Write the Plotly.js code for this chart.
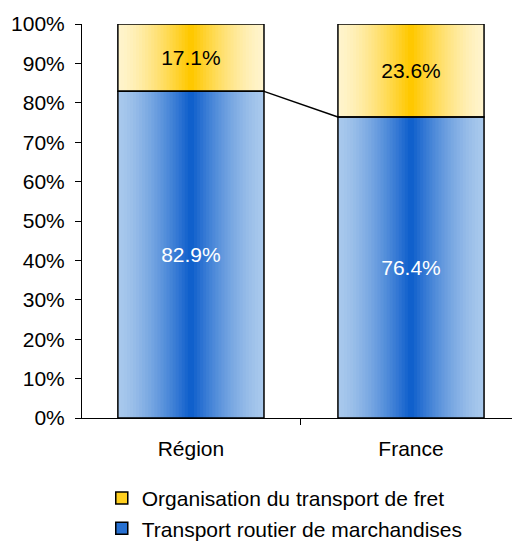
<!DOCTYPE html>
<html>
<head>
<meta charset="utf-8">
<script src="https://cdn.plot.ly/plotly-3.0.1.min.js"></script>
<style>html,body{margin:0;padding:0;background:#fff;}#chart{width:512px;height:543px;}</style>
</head>
<body>
<div id="chart"></div>
<script>
// ---- data ----
const categories = ["Région", "France"];
const routier = [82.9, 76.4];      // Transport routier de marchandises
const organisation = [17.1, 23.6]; // Organisation du transport de fret
const seriesNames = ["Transport routier de marchandises", "Organisation du transport de fret"];
const yTickVals = [0, 10, 20, 30, 40, 50, 60, 70, 80, 90, 100];

// ---- styling ----
const FONT = "Liberation Sans, Arial, sans-serif";
const FS = 21;
const BAR_W = 0.664;
const N = 24;
const blueEdge = [168, 200, 236], blueCenter = [16, 96, 204];
const goldEdge = [255, 244, 204], goldCenter = [255, 200, 0];
function mix(a, b, t) {
  return "rgb(" + a.map((v, i) => Math.round(v + (b[i] - v) * t)).join(",") + ")";
}
const xIdx = categories.map((c, i) => i);
const orgBase = routier.slice();

const traces = [];
function gradientStrips(values, base, edge, center) {
  for (let k = 0; k < N; k++) {
    const t = Math.pow(k / (N - 1), 1.4);
    traces.push({
      type: "bar", x: xIdx, y: values, base: base,
      width: BAR_W * (1 - k / N),
      marker: { color: mix(edge, center, t), line: { width: 0 } },
      showlegend: false, hoverinfo: "skip"
    });
  }
}
gradientStrips(routier, [0, 0], blueEdge, blueCenter);
gradientStrips(organisation, orgBase, goldEdge, goldCenter);

// outlines with labels
traces.push({
  type: "bar", x: xIdx, y: routier, base: [0, 0], width: BAR_W,
  marker: { color: "rgba(0,0,0,0)", line: { color: "#000", width: 1.5 } },
  text: routier.map(v => v.toFixed(1) + "%"), textposition: "inside",
  insidetextanchor: "middle", textangle: 0,
  insidetextfont: { family: FONT, size: FS, color: "#fff" },
  showlegend: false, hoverinfo: "skip"
});
traces.push({
  type: "bar", x: xIdx, y: organisation, base: orgBase, width: BAR_W,
  marker: { color: "rgba(0,0,0,0)", line: { color: "#000", width: 1.5 } },
  text: organisation.map(v => v.toFixed(1) + "%"), textposition: "inside",
  insidetextanchor: "middle", textangle: 0,
  insidetextfont: { family: FONT, size: FS, color: "#000" },
  showlegend: false, hoverinfo: "skip"
});

// connector line between top of first series
traces.push({
  type: "scatter", mode: "lines",
  x: [xIdx[0] + BAR_W / 2, xIdx[1] - BAR_W / 2],
  y: [routier[0], routier[1]],
  line: { color: "#000", width: 1.5 },
  showlegend: false, hoverinfo: "skip"
});

// legend entries (on hidden axis, out of view)
traces.push({
  type: "bar", x: xIdx, y: organisation, yaxis: "y2", name: seriesNames[1],
  marker: { color: mix(goldEdge, goldCenter, 0.85), line: { color: "#000", width: 1.5 } },
  hoverinfo: "skip"
});
traces.push({
  type: "bar", x: xIdx, y: routier, yaxis: "y2", name: seriesNames[0],
  marker: { color: mix(blueEdge, blueCenter, 0.85), line: { color: "#000", width: 1.5 } },
  hoverinfo: "skip"
});

const layout = {
  width: 512, height: 543,
  margin: { l: 82, r: 0, t: 24, b: 125, autoexpand: false },
  paper_bgcolor: "#fff", plot_bgcolor: "#fff",
  barmode: "overlay",
  font: { family: FONT, size: FS, color: "#000" },
  showlegend: true,
  xaxis: {
    range: [-0.495, 1.459], automargin: false,
    tickmode: "array", tickvals: xIdx, ticktext: categories,
    ticks: "", showgrid: false, zeroline: false,
    showline: true, linecolor: "#000", linewidth: 1,
    ticklabelstandoff: 12,
    tickfont: { family: FONT, size: FS, color: "#000" },
    minor: { tickmode: "array", tickvals: [0.5], ticks: "outside", ticklen: 6, tickcolor: "#000", tickwidth: 1, showgrid: false },
    fixedrange: true
  },
  yaxis: {
    range: [0, 100], automargin: false,
    tickmode: "array", tickvals: yTickVals, ticktext: yTickVals.map(v => v + "%"),
    ticks: "outside", ticklen: 6, tickcolor: "#000", tickwidth: 1,
    showgrid: false, zeroline: false,
    showline: true, linecolor: "#000", linewidth: 1,
    ticklabelstandoff: 6,
    tickfont: { family: FONT, size: FS, color: "#000" },
    fixedrange: true
  },
  yaxis2: {
    overlaying: "y", range: [1000, 1001], visible: false, fixedrange: true
  },
  legend: {
    x: 0.046, xanchor: "left", y: -0.152, yanchor: "top",
    orientation: "v", traceorder: "normal",
    font: { family: FONT, size: FS, color: "#000" },
    bgcolor: "rgba(0,0,0,0)"
  }
};

Plotly.newPlot("chart", traces, layout, { staticPlot: true, displayModeBar: false });
</script>
</body>
</html>
